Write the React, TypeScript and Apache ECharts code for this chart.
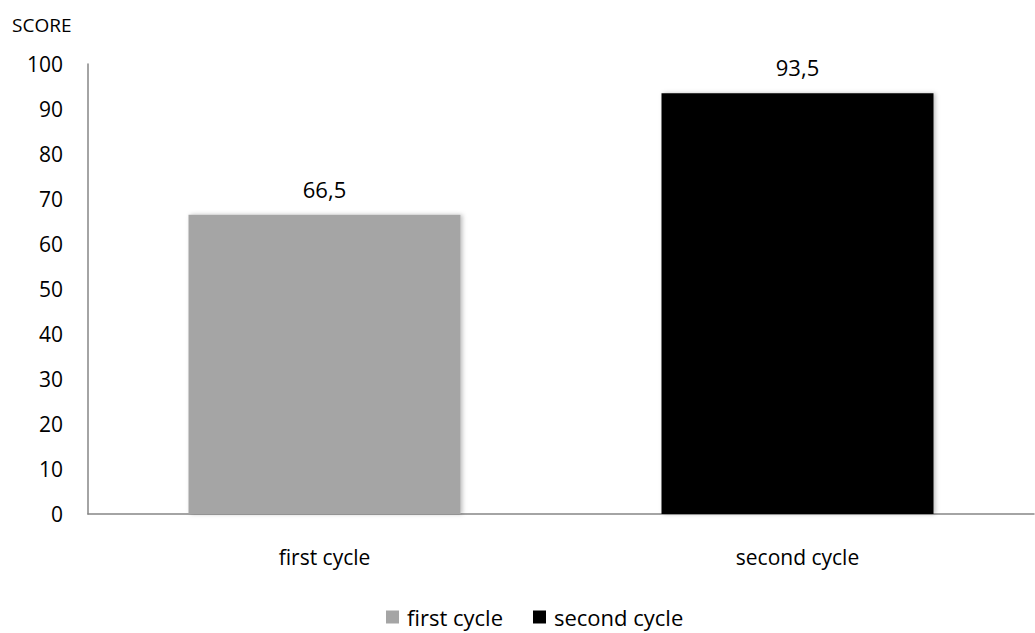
import React, { useEffect, useRef } from "react";
import * as echarts from "echarts";

const categories = ["first cycle", "second cycle"];
const seriesNames = ["first cycle", "second cycle"];
const firstCycle = [66.5, null];
const secondCycle = [null, 93.5];
const yTicks = [0, 10, 20, 30, 40, 50, 60, 70, 80, 90, 100];

const FONT = "'Open Sans', 'Liberation Sans', sans-serif";

export default function App() {
  const ref = useRef<HTMLDivElement>(null);

  useEffect(() => {
    if (!ref.current) return;
    const chart = echarts.init(ref.current, undefined, { renderer: "svg" });
    const labelFmt = (p: any) => String(p.value).replace(".", ",");
    const barShadow = {
      shadowBlur: 4,
      shadowOffsetX: 2,
      shadowOffsetY: 0,
      shadowColor: "rgba(0,0,0,0.25)",
    };
    const valueLabel = {
      show: true,
      position: "top",
      distance: 15,
      color: "#000",
      fontSize: 22,
      fontFamily: FONT,
      formatter: labelFmt,
    };
    chart.setOption({
      animation: false,
      backgroundColor: "#ffffff",
      textStyle: { fontFamily: FONT },
      grid: { left: 88, right: 1, top: 64, bottom: 119, containLabel: false },
      legend: {
        top: 606,
        left: 386,
        padding: 0,
        itemWidth: 13,
        itemHeight: 13,
        itemGap: 30,
        icon: "rect",
        textStyle: { fontFamily: FONT, fontSize: 22, color: "#000", padding: [0, 0, 0, 3] },
        data: seriesNames,
      },
      xAxis: {
        type: "category",
        data: categories,
        axisLine: { lineStyle: { color: "#868686", width: 1.5 } },
        axisTick: { show: false },
        axisLabel: { color: "#000", fontSize: 21, fontFamily: FONT, margin: 32 },
      },
      yAxis: {
        type: "value",
        min: yTicks[0],
        max: yTicks[yTicks.length - 1],
        interval: 10,
        name: "SCORE",
        nameLocation: "end",
        nameGap: 30,
        nameTextStyle: { color: "#000", fontSize: 19, fontFamily: FONT, align: "left", padding: [0, 0, 0, -76] },
        axisLine: { show: true, lineStyle: { color: "#868686", width: 1.5 } },
        axisTick: { show: false },
        splitLine: { show: false },
        axisLabel: { color: "#000", fontSize: 21, fontFamily: FONT, margin: 25 },
      },
      series: [
        {
          name: seriesNames[0],
          type: "bar",
          data: firstCycle,
          barWidth: 272,
          barGap: "-100%",
          itemStyle: { color: "#a5a5a5", ...barShadow },
          label: valueLabel,
        },
        {
          name: seriesNames[1],
          type: "bar",
          data: secondCycle,
          barWidth: 272,
          barGap: "-100%",
          itemStyle: { color: "#000000", ...barShadow },
          label: valueLabel,
        },
      ],
    });
    return () => chart.dispose();
  }, []);

  return <div ref={ref} style={{ width: 1035, height: 633, position: "absolute", left: 0, top: 0 }} />;
}
